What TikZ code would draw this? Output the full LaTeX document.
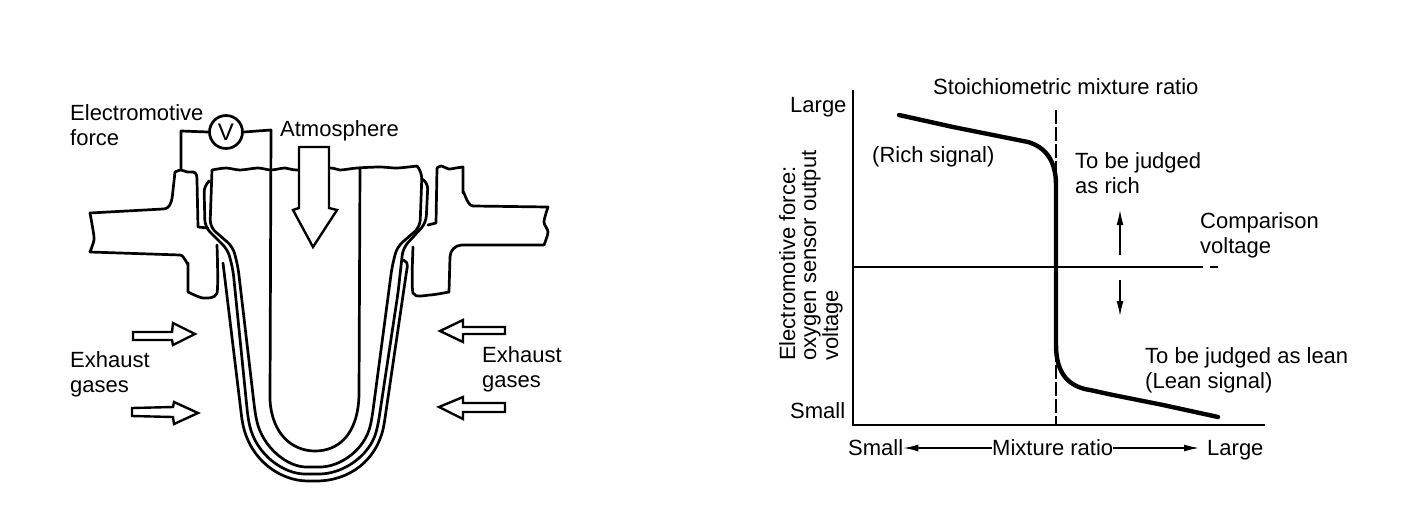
\documentclass[tikz,border=0pt]{standalone}
\usepackage{fontspec}
\setmainfont{Liberation Sans}
\usetikzlibrary{positioning, arrows.meta}

\tikzset{
    lbl/.style={inner sep=0pt, anchor=base west, align=left, font=\fontsize{22}{25}\selectfont},
    part/.style={line width=2.7pt, line join=round, line cap=round},
    flow/.style={line width=2.4pt, line join=miter, fill=white},
    thin axis/.style={line width=1.8pt},
    tick arrow/.style={line width=1.3pt, -{Latex[length=15pt, width=7pt]}},
    curve/.style={line width=4.4pt, line cap=round},
}

\begin{document}
\begin{tikzpicture}[x=1pt, y=-1pt]
    \useasboundingbox (0,0) rectangle (1408,512);

    % sensor: inner tube
    \draw[part] (271,130) -- (270,400) .. controls (272,435) and (293,451) .. (315,451) .. controls (338,451) and (358,435) .. (359,395) -- (360,168);

    % sensor: the three layers of the element
    \draw[part, rounded corners=7pt] (212,170) -- (210,227) -- (233,247) -- (238,267) -- (255,412) .. controls (262,448) and (288,467) .. (313,467) .. controls (340,467) and (365,450) .. (372,418) -- (392,267) -- (397,247) -- (420,227) -- (422,172) -- (417,166);
    \draw[part, rounded corners=7pt] (208,182) -- (204,185) -- (205,227) -- (228,250) -- (233,270) -- (248,418) .. controls (256,455) and (284,474) .. (312,474) .. controls (344,474) and (370,455) .. (378,425) -- (398,293) -- (403,248) -- (426,223) -- (428,182) -- (422,179);
    \draw[part, rounded corners=4pt] (223,263) -- (242,420) .. controls (250,460) and (280,481) .. (312,481) .. controls (350,481) and (376,460) .. (384,425) -- (406,275) -- (408,262) -- (403,260);

    % sensor: wavy cut along the top
    \draw[part] plot[smooth] coordinates {(212,170) (226,168) (240,170) (258,168) (271,170) (285,168) (297,170) (330,168) (340,170) (357,168) (380,167) (397,168) (417,166)};

    % housing, left half
    \draw[part] plot[smooth, tension=0.4] coordinates {(217,245) (217,293) (203,298) (188,292)};
    \draw[part] (188,292) -- (188,263) to[out=-90, in=0] (180,255) -- (90,252);
    \draw[part] plot[smooth] coordinates {(90,252) (94,240) (93,230) (90,213)};
    \draw[part] (90,213) -- (163,209) to[out=0, in=-95] (173,190) -- (175,172);
    \draw[part] plot[smooth] coordinates {(175,172) (181,170) (187,172) (193,172)};
    \draw[part] (193,172) to[out=0, in=90] (197,180) -- (198,227) -- (208,228);

    % housing, right half
    \draw[part] plot[smooth, tension=0.4] coordinates {(413,247) (413,293) (430,295) (449,292)};
    \draw[part] (449,292) -- (450,257) to[out=90, in=180] (462,245) -- (544,245);
    \draw[part] plot[smooth] coordinates {(544,245) (548,232) (544,222) (548,207)};
    \draw[part] (548,207) -- (473,206) to[out=180, in=90] (463,193) -- (463,167);
    \draw[part] plot[smooth] coordinates {(463,167) (456,168) (449,169) (441,166) (437,168)};
    \draw[part] (437,168) -- (436,223) -- (428,225);

    % voltmeter
    \node[circle, draw, line width=2.7pt, inner sep=0pt, minimum size=33pt, font=\fontsize{24}{24}\selectfont] (volt) at (226,132) {V};
    \draw[part] (volt.west) -- (181,131) -- (181,170);
    \draw[part] (volt.east) -- (271,130);

    % flow arrows
    \draw[flow] (299,147) -- (329,147) -- (329,208) -- (337,210) -- (313,247) -- (293,210) -- (299,208) -- cycle;
    \draw[flow] (133,332) -- (172,332) -- (173,323) -- (195,334) -- (173,345) -- (172,340) -- (133,340) -- cycle;
    \draw[flow] (132,408) -- (173,407) -- (174,402) -- (198,413) -- (174,424) -- (173,417) -- (132,416) -- cycle;
    \draw[flow] (440,331) -- (463,320) -- (463,327) -- (505,327) -- (505,334) -- (463,334) -- (463,342) -- cycle;
    \draw[flow] (439,407) -- (463,397) -- (463,403) -- (505,403) -- (505,412) -- (463,412) -- (463,419) -- cycle;

    % sensor labels
    \node[lbl] (emf) at (70,120) {Electromotive};
    \node[lbl] (emf2) at (70,145) {force};
    \node[lbl] (atm) at (280,136) {Atmosphere};
    \node[lbl] (exhl) at (70,367) {Exhaust};
    \node[lbl] (exhl2) at (70,392) {gases};
    \node[lbl] (exhr) at (482,362) {Exhaust};
    \node[lbl] (exhr2) at (482,387) {gases};

    % graph
    \coordinate (origin) at (853,425);
    \coordinate (ytop) at (853,90);
    \coordinate (xend) at (1265,425);
    \draw[line width=2.6pt] (ytop) -- (origin) -- (xend);
    \draw[line width=1.5pt, dash pattern=on 14pt off 3pt] (1056,110) -- (1056,425);
    \draw[thin axis] (853,267) -- (1203,267);
    \draw[thin axis] (1210,267) -- (1218,267);
    \draw[curve] (899,115) -- (953,127) -- (1003,137) -- (1028,142) .. controls (1045,147) and (1056,160) .. (1056,185) -- (1056,345) .. controls (1056,375) and (1070,387) .. (1090,390) -- (1113,395) -- (1163,405) -- (1218,417);

    \coordinate (upfoot) at (1120,255);
    \coordinate (uptip) at (1120,210);
    \coordinate (downfoot) at (1120,280);
    \coordinate (downtip) at (1120,316);
    \draw[tick arrow] (upfoot) -- (uptip);
    \draw[tick arrow] (downfoot) -- (downtip);

    % graph labels
    \node[lbl] (stoich) at (933,94) {Stoichiometric mixture ratio};
    \node[lbl] (ylarge) at (790,112) {Large};
    \node[lbl] (ysmall) at (790,418) {Small};
    \node[lbl] (rich) at (872,162) {(Rich signal)};
    \node[lbl] (judgerich) at (1075,168) {To be judged};
    \node[lbl] (judgerich2) at (1075,193) {as rich};
    \node[lbl] (comp) at (1200,228) {Comparison};
    \node[lbl] (comp2) at (1200,253) {voltage};
    \node[lbl] (judgelean) at (1145,363) {To be judged as lean};
    \node[lbl] (lean) at (1145,388) {(Lean signal)};
    \node[lbl] (xsmall) at (848,455) {Small};
    \node[lbl] (mix) at (992,455) {Mixture ratio};
    \node[lbl] (xlarge) at (1207,455) {Large};
    \node[lbl, rotate=90] (yaxis) at (795,361) {Electromotive force:};
    \node[lbl, rotate=90] (yaxis2) at (816,361) {oxygen sensor output};
    \node[lbl, rotate=90] (yaxis3) at (838,361) {voltage};

    \draw[tick arrow] (mix.west |- 0,448) -- (xsmall.east |- 0,448);
    \draw[tick arrow] (mix.east |- 0,448) -- ([xshift=-8pt]xlarge.west |- 0,448);
\end{tikzpicture}
\end{document}
